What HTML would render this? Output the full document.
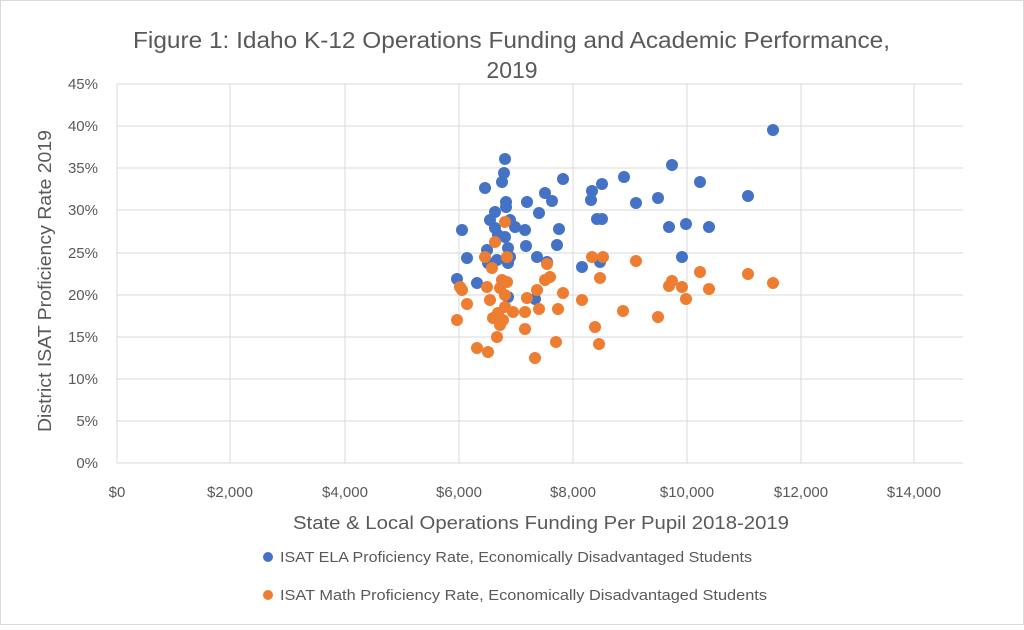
<!DOCTYPE html>
<html><head><meta charset="utf-8"><style>
body{margin:0;background:#fff}
svg text{font-family:"Liberation Sans",sans-serif;fill:#595959}
</style></head><body>
<svg width="1024" height="625" xmlns="http://www.w3.org/2000/svg">
<rect x="0.5" y="0.5" width="1023" height="624" fill="#fff" stroke="#d9d9d9"/>
<text x="133" y="48" font-size="23" textLength="757" lengthAdjust="spacingAndGlyphs">Figure 1: Idaho K-12 Operations Funding and Academic Performance,</text>
<text x="512" y="78" font-size="23" text-anchor="middle">2019</text>
<g stroke="#d9d9d9" stroke-width="1">
<line x1="117" y1="84" x2="963" y2="84"/><line x1="117" y1="126" x2="963" y2="126"/><line x1="117" y1="168" x2="963" y2="168"/><line x1="117" y1="210" x2="963" y2="210"/><line x1="117" y1="253" x2="963" y2="253"/><line x1="117" y1="295" x2="963" y2="295"/><line x1="117" y1="337" x2="963" y2="337"/><line x1="117" y1="379" x2="963" y2="379"/><line x1="117" y1="421" x2="963" y2="421"/>
<line x1="230" y1="84" x2="230" y2="463"/><line x1="345" y1="84" x2="345" y2="463"/><line x1="459" y1="84" x2="459" y2="463"/><line x1="573" y1="84" x2="573" y2="463"/><line x1="687" y1="84" x2="687" y2="463"/><line x1="801" y1="84" x2="801" y2="463"/><line x1="914" y1="84" x2="914" y2="463"/>
<line x1="117" y1="84" x2="117" y2="463"/><line x1="117" y1="463" x2="963" y2="463"/>
</g>
<g font-size="15" text-anchor="end">
<text x="98" y="89">45%</text><text x="98" y="131">40%</text><text x="98" y="173">35%</text><text x="98" y="215">30%</text><text x="98" y="258">25%</text><text x="98" y="300">20%</text><text x="98" y="342">15%</text><text x="98" y="384">10%</text><text x="98" y="426">5%</text><text x="98" y="468">0%</text>
</g>
<g font-size="15" text-anchor="middle">
<text x="117" y="497">$0</text><text x="230" y="497">$2,000</text><text x="345" y="497">$4,000</text><text x="459" y="497">$6,000</text><text x="573" y="497">$8,000</text><text x="687" y="497">$10,000</text><text x="801" y="497">$12,000</text><text x="914" y="497">$14,000</text>
</g>
<text x="293" y="529" font-size="18" textLength="496" lengthAdjust="spacingAndGlyphs">State &amp; Local Operations Funding Per Pupil 2018-2019</text>
<text transform="translate(51,432) rotate(-90)" font-size="18" textLength="302" lengthAdjust="spacingAndGlyphs">District ISAT Proficiency Rate 2019</text>
<g fill="#4472C4">
<circle cx="457" cy="279" r="6"/><circle cx="505" cy="159" r="6"/><circle cx="504" cy="173" r="6"/><circle cx="502" cy="182" r="6"/><circle cx="485" cy="188" r="6"/><circle cx="506" cy="202" r="6"/><circle cx="506" cy="207" r="6"/><circle cx="495" cy="212" r="6"/><circle cx="490" cy="220" r="6"/><circle cx="510" cy="220" r="6"/><circle cx="515" cy="227" r="6"/><circle cx="495" cy="228" r="6"/><circle cx="505" cy="237" r="6"/><circle cx="498" cy="235" r="6"/><circle cx="462" cy="230" r="6"/><circle cx="467" cy="258" r="6"/><circle cx="487" cy="250" r="6"/><circle cx="508" cy="248" r="6"/><circle cx="510" cy="257" r="6"/><circle cx="488" cy="263" r="6"/><circle cx="497" cy="260" r="6"/><circle cx="508" cy="263" r="6"/><circle cx="477" cy="283" r="6"/><circle cx="508" cy="297" r="6"/><circle cx="527" cy="202" r="6"/><circle cx="545" cy="193" r="6"/><circle cx="552" cy="201" r="6"/><circle cx="539" cy="213" r="6"/><circle cx="563" cy="179" r="6"/><circle cx="525" cy="230" r="6"/><circle cx="559" cy="229" r="6"/><circle cx="526" cy="246" r="6"/><circle cx="557" cy="245" r="6"/><circle cx="537" cy="257" r="6"/><circle cx="547" cy="262" r="6"/><circle cx="535" cy="299" r="6"/><circle cx="592" cy="191" r="6"/><circle cx="602" cy="184" r="6"/><circle cx="591" cy="200" r="6"/><circle cx="597" cy="219" r="6"/><circle cx="602" cy="219" r="6"/><circle cx="582" cy="267" r="6"/><circle cx="600" cy="262" r="6"/><circle cx="773" cy="130" r="6"/><circle cx="672" cy="165" r="6"/><circle cx="700" cy="182" r="6"/><circle cx="624" cy="177" r="6"/><circle cx="636" cy="203" r="6"/><circle cx="658" cy="198" r="6"/><circle cx="748" cy="196" r="6"/><circle cx="669" cy="227" r="6"/><circle cx="686" cy="224" r="6"/><circle cx="709" cy="227" r="6"/><circle cx="682" cy="257" r="6"/>
</g>
<g fill="#ED7D31">
<circle cx="457" cy="320" r="6"/><circle cx="505" cy="222" r="6"/><circle cx="495" cy="242" r="6"/><circle cx="485" cy="257" r="6"/><circle cx="507" cy="257" r="6"/><circle cx="492" cy="268" r="6"/><circle cx="547" cy="264" r="6"/><circle cx="550" cy="277" r="6"/><circle cx="545" cy="280" r="6"/><circle cx="460" cy="287" r="6"/><circle cx="462" cy="290" r="6"/><circle cx="487" cy="287" r="6"/><circle cx="502" cy="280" r="6"/><circle cx="507" cy="282" r="6"/><circle cx="500" cy="288" r="6"/><circle cx="505" cy="295" r="6"/><circle cx="490" cy="300" r="6"/><circle cx="467" cy="304" r="6"/><circle cx="527" cy="298" r="6"/><circle cx="537" cy="290" r="6"/><circle cx="563" cy="293" r="6"/><circle cx="525" cy="312" r="6"/><circle cx="539" cy="309" r="6"/><circle cx="558" cy="309" r="6"/><circle cx="513" cy="312" r="6"/><circle cx="505" cy="307" r="6"/><circle cx="498" cy="313" r="6"/><circle cx="493" cy="318" r="6"/><circle cx="503" cy="320" r="6"/><circle cx="500" cy="325" r="6"/><circle cx="497" cy="337" r="6"/><circle cx="525" cy="329" r="6"/><circle cx="477" cy="348" r="6"/><circle cx="488" cy="352" r="6"/><circle cx="535" cy="358" r="6"/><circle cx="556" cy="342" r="6"/><circle cx="582" cy="300" r="6"/><circle cx="592" cy="257" r="6"/><circle cx="603" cy="257" r="6"/><circle cx="600" cy="278" r="6"/><circle cx="595" cy="327" r="6"/><circle cx="599" cy="344" r="6"/><circle cx="636" cy="261" r="6"/><circle cx="700" cy="272" r="6"/><circle cx="748" cy="274" r="6"/><circle cx="773" cy="283" r="6"/><circle cx="672" cy="281" r="6"/><circle cx="669" cy="286" r="6"/><circle cx="682" cy="287" r="6"/><circle cx="709" cy="289" r="6"/><circle cx="686" cy="299" r="6"/><circle cx="623" cy="311" r="6"/><circle cx="658" cy="317" r="6"/>
</g>
<circle cx="268" cy="557" r="5" fill="#4472C4"/>
<text x="280" y="562" font-size="15" textLength="472" lengthAdjust="spacingAndGlyphs">ISAT ELA Proficiency Rate, Economically Disadvantaged Students</text>
<circle cx="268" cy="595" r="5" fill="#ED7D31"/>
<text x="280" y="600" font-size="15" textLength="487" lengthAdjust="spacingAndGlyphs">ISAT Math Proficiency Rate, Economically Disadvantaged Students</text>
</svg>
</body></html>
